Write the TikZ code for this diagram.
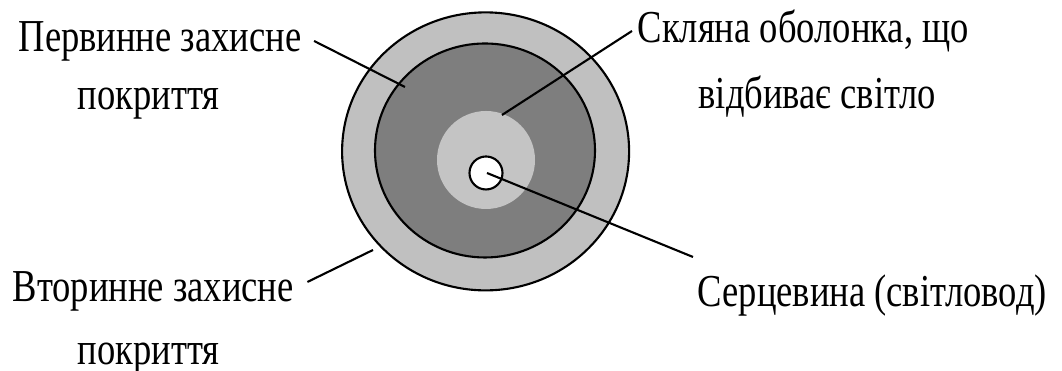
\documentclass[tikz,border=0pt]{standalone}
\usepackage{fontspec}
\setmainfont{Liberation Serif}[FakeStretch=0.80]
\usepackage{tikz}
\usetikzlibrary{positioning,calc}
\definecolor{CoatGray}{RGB}{192,192,192}
\definecolor{BufferGray}{RGB}{126,126,126}
\definecolor{CladGray}{RGB}{196,196,196}
\tikzset{
  lbl/.style={inner sep=1mm, anchor=base west, font=\fontsize{13}{15}\selectfont},
  leader/.style={line width=0.6pt}
}

\begin{document}
\begin{tikzpicture}[x=1mm, y=-1mm]
        \useasboundingbox (0,0) rectangle (106.2,37.1);
        \filldraw[fill=CoatGray, line width=0.6pt] (48.56,15.14) circle[x radius=14.35, y radius=13.9];
        \filldraw[fill=BufferGray, line width=0.6pt] (48.5,15.05) circle[x radius=11.0, y radius=10.7];
        \fill[CladGray] (48.6,16.0) circle[radius=4.9];
        \filldraw[fill=white, line width=0.6pt] (48.6,17.3) circle[radius=1.65];
        \coordinate (primpt) at (40.5,8.7);
        \coordinate (cladpt) at (50.2,11.5);
        \coordinate (corept) at (48.7,17.3);
        \coordinate (secpt) at (37.3,25.0);
        \node[lbl] (prim) at (0.8,5.2) {Первинне захисне};
        \node[lbl] (prim2) at (6.7,11.0) {покриття};
        \node[lbl] (clad) at (62.7,4.3) {Скляна оболонка, що};
        \node[lbl] (clad2) at (68.8,10.9) {відбиває світло};
        \node[lbl] (sec) at (0.2,30.2) {Вторинне захисне};
        \node[lbl] (sec2) at (6.7,36.5) {покриття};
        \node[lbl] (core) at (68.7,30.7) {Серцевина (світловод)};
        \draw[leader] ([xshift=0.2mm,yshift=1.1mm]prim.base east) -- (primpt);
        \draw[leader] ([xshift=0.5mm,yshift=1.2mm]clad.base west) -- (cladpt);
        \draw[leader] ([xshift=0.6mm,yshift=5mm]core.base west) -- (corept);
        \draw[leader] ([xshift=0.3mm,yshift=2mm]sec.base east) -- (secpt);
      \end{tikzpicture}
\end{document}
